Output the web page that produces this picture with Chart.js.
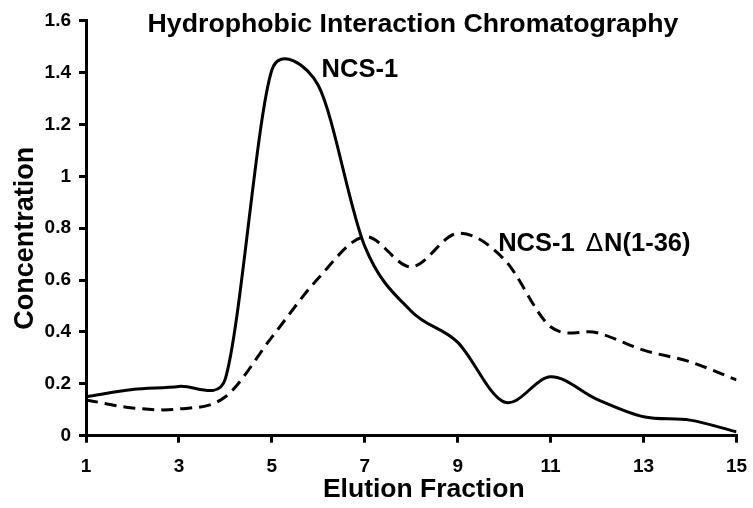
<!DOCTYPE html>
<html>
<head>
<meta charset="utf-8">
<script src="https://cdn.jsdelivr.net/npm/chart.js@4.4.1/dist/chart.umd.min.js"></script>
<style>
  html, body { margin: 0; padding: 0; background: #fff; }
  #wrap { width: 753px; height: 508px; position: relative; }
</style>
</head>
<body>
<div id="wrap"><canvas id="c" width="753" height="508"></canvas></div>
<script>
// ---- data ----
const fractions = [1, 2, 3, 4, 5, 6, 7, 8, 9, 10, 11, 12, 13, 14, 15];
const ncs1      = [0.15, 0.178, 0.19, 0.22, 1.41, 1.35, 0.73, 0.48, 0.36, 0.13, 0.227, 0.14, 0.073, 0.06, 0.015];
const ncs1dN    = [0.138, 0.107, 0.103, 0.15, 0.38, 0.607, 0.767, 0.651, 0.78, 0.68, 0.42, 0.397, 0.33, 0.285, 0.215];
const seriesNames = ['NCS-1', 'NCS-1 \u0394N(1-36)'];
const chartTitle = 'Hydrophobic Interaction Chromatography';
const xTitle = 'Elution Fraction';
const yTitle = 'Concentration';
// label anchor points (left edge / baseline) in data units
const labelAnchors = [ {x: 6.07, y: 1.383}, {x: 9.87, y: 0.712} ];

const FONT = '"Liberation Sans", Arial, Helvetica, sans-serif';

const toXY = (vals) => fractions.map((f, i) => ({x: f, y: vals[i]}));

// Spreadsheet-style smoothing: Catmull-Rom tangents, handles limited by neighbouring segment length
const smoothPlugin = {
  id: 'smooth',
  beforeDatasetDraw(chart, args) {
    const meta = args.meta;
    const pts = meta.data;
    const n = pts.length;
    for (let i = 0; i < n; i++) {
      const p = pts[i];
      const prev = pts[Math.max(0, i - 1)];
      const next = pts[Math.min(n - 1, i + 1)];
      let tx = next.x - prev.x, ty = next.y - prev.y;
      if (i > 0 && i < n - 1) { tx /= 2; ty /= 2; }
      const hx = tx / 3, hy = ty / 3;
      const hl = Math.hypot(hx, hy) || 1;
      const dPrev = Math.hypot(p.x - prev.x, p.y - prev.y);
      const dNext = Math.hypot(next.x - p.x, next.y - p.y);
      const k1 = Math.min(1, 0.5 * dPrev / hl);
      const k2 = Math.min(1, 0.5 * dNext / hl);
      p.cp1x = p.x - hx * k1; p.cp1y = p.y - hy * k1;
      p.cp2x = p.x + hx * k2; p.cp2y = p.y + hy * k2;
    }
    meta.dataset._pointsUpdated = true;
  }
};

function drawLabel(ctx, text, x, y) {
  // the delta is set in a lighter, thin-stroke face like the original symbol glyph
  const bold = 'bold 25.5px ' + FONT;
  const thin = '25.5px "DejaVu Sans", ' + FONT;
  const parts = text.split('\u0394');
  let cur = x;
  parts.forEach((part, idx) => {
    if (idx > 0) {
      cur += 11;
      ctx.font = thin;
      ctx.fillText('\u0394', cur, y);
      cur += ctx.measureText('\u0394').width + 1;
    }
    const t = part.replace(/ $/, '');
    ctx.font = bold;
    ctx.fillText(t, cur, y);
    cur += ctx.measureText(t).width;
  });
}

const annotatePlugin = {
  id: 'annotate',
  afterDraw(chart) {
    const {ctx, chartArea, scales} = chart;
    const cx = (chartArea.left + chartArea.right) / 2;
    const cy = (chartArea.top + chartArea.bottom) / 2;
    ctx.save();
    ctx.fillStyle = '#000';
    ctx.textBaseline = 'alphabetic';
    // chart title
    ctx.font = 'bold 26.7px ' + FONT;
    ctx.textAlign = 'center';
    ctx.fillText(chartTitle, cx + 1.75, chartArea.top + 11.3);
    // x axis title
    ctx.font = 'bold 26.5px ' + FONT;
    ctx.fillText(xTitle, cx + 12.5, chartArea.bottom + 61);
    // y axis title
    ctx.save();
    ctx.translate(33, cy + 10);
    ctx.rotate(-Math.PI / 2);
    ctx.font = 'bold 27px ' + FONT;
    ctx.fillText(yTitle, 0, 0);
    ctx.restore();
    // series labels
    ctx.textAlign = 'left';
    seriesNames.forEach((name, i) => {
      const a = labelAnchors[i];
      drawLabel(ctx, name, scales.x.getPixelForValue(a.x), scales.y.getPixelForValue(a.y));
    });
    ctx.restore();
  }
};

new Chart(document.getElementById('c'), {
  type: 'line',
  data: {
    datasets: [
      {
        label: seriesNames[0],
        data: toXY(ncs1),
        borderColor: '#000',
        borderWidth: 3,
        pointRadius: 0,
        tension: 0.4,
        fill: false
      },
      {
        label: seriesNames[1],
        data: toXY(ncs1dN),
        borderColor: '#000',
        borderWidth: 3,
        borderDash: [12, 7],
        pointRadius: 0,
        tension: 0.4,
        fill: false
      }
    ]
  },
  options: {
    responsive: false,
    animation: false,
    devicePixelRatio: 1,
    layout: { padding: { top: 20.7, right: 16.5, left: 0, bottom: 0 } },
    plugins: {
      legend: { display: false },
      tooltip: { enabled: false },
      title: { display: false }
    },
    scales: {
      x: {
        type: 'linear',
        min: 1,
        max: 15,
        ticks: {
          stepSize: 2,
          color: '#000',
          padding: 13,
          font: { family: FONT, size: 19, weight: 'bold' },
          maxRotation: 0
        },
        grid: { drawOnChartArea: false, drawTicks: true, tickLength: 7, color: '#000', lineWidth: 3 },
        border: { display: true, color: '#000', width: 3 },
        title: { display: false },
        afterFit(scale) { scale.height = 72.3; scale.paddingLeft = 0; scale.paddingRight = 0; }
      },
      y: {
        type: 'linear',
        min: 0,
        max: 1.6,
        ticks: {
          stepSize: 0.2,
          color: '#000',
          padding: 8,
          font: { family: FONT, size: 19, weight: 'bold' },
          callback: (v) => String(Number(v.toFixed(1)))
        },
        grid: { drawOnChartArea: false, drawTicks: true, tickLength: 7, color: '#000', lineWidth: 3 },
        border: { display: true, color: '#000', width: 3 },
        title: { display: false },
        afterFit(scale) { scale.width = 86; scale.paddingTop = 0; scale.paddingBottom = 0; }
      }
    }
  },
  plugins: [smoothPlugin, annotatePlugin]
});
</script>
</body>
</html>
